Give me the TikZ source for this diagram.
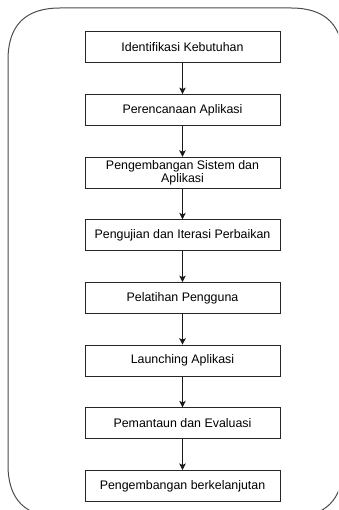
\documentclass[tikz,border=0pt]{standalone}
\usepackage{fontspec}
\setmainfont{Liberation Sans}
\usetikzlibrary{arrows.meta}
\begin{document}
\begin{tikzpicture}[x=1pt,y=-1pt,
  stepbox/.style={draw=black!85, line width=1pt, minimum width=195pt, minimum height=31pt,
    inner sep=0pt, align=center, font=\fontsize{12.4}{12.6}\selectfont, text=black},
  flow/.style={draw=black!90, line width=1pt, -{Stealth[width=6.5pt,length=6.5pt,inset=1.5pt]}}]
\useasboundingbox (0,0) rectangle (338,510);
\begin{scope}
\clip (0,0) rectangle (338,510);
\draw[black!70, line width=1pt]
  (8,60) .. controls (8,25.33) and (25.33,8) .. (60,8)
  -- (291,8) .. controls (325.67,8) and (343,25.33) .. (343,60)
  -- (343,465) .. controls (343,499.67) and (325.67,517) .. (291,517)
  -- (60,517) .. controls (25.33,517) and (8,499.67) .. (8,465)
  -- cycle;
\end{scope}
\node[stepbox] (n1) at (182.5,47.5) {Identifikasi Kebutuhan};
\node[stepbox] (n2) at (182.5,110.1) {Perencanaan Aplikasi};
\node[stepbox] (n3) at (182.5,172.8) {Pengembangan Sistem dan\\Aplikasi};
\node[stepbox] (n4) at (182.5,235.4) {Pengujian dan Iterasi Perbaikan};
\node[stepbox] (n5) at (182.5,298.1) {Pelatihan Pengguna};
\node[stepbox] (n6) at (182.5,360.7) {Launching Aplikasi};
\node[stepbox] (n7) at (182.5,423.4) {Pemantaun dan Evaluasi};
\node[stepbox] (n8) at (182.5,486) {Pengembangan berkelanjutan};
\foreach \a/\b in {n1/n2,n2/n3,n3/n4,n4/n5,n5/n6,n6/n7,n7/n8}
  \draw[flow] (\a.south) -- (\b.north);
\end{tikzpicture}
\end{document}
